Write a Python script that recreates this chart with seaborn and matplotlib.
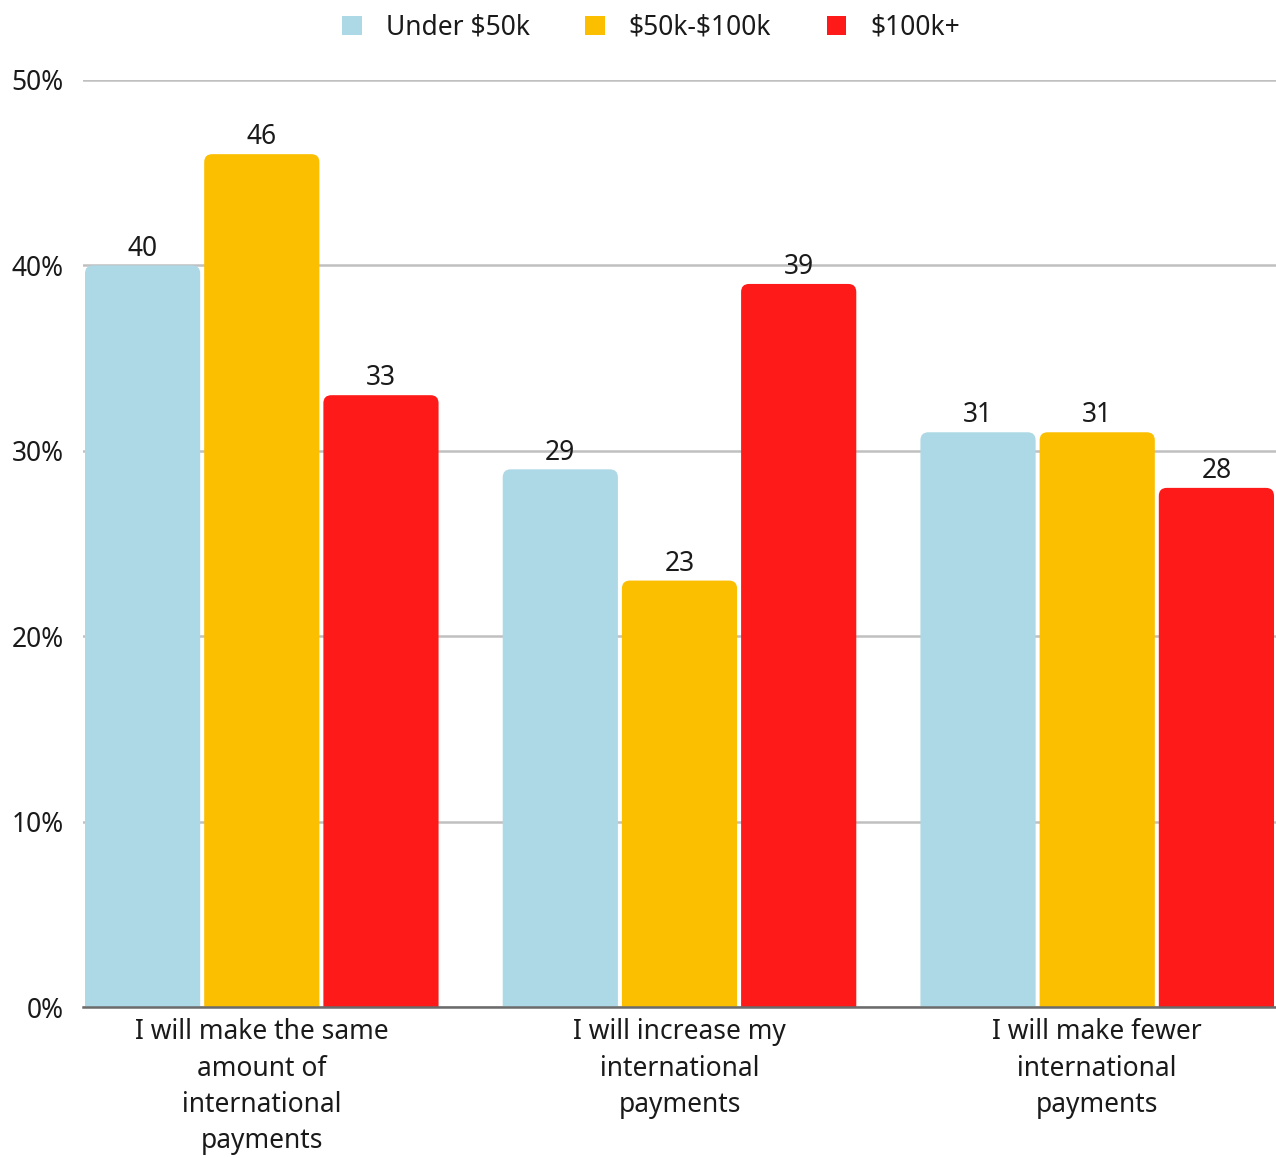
import matplotlib
matplotlib.use("Agg")
import matplotlib.pyplot as plt
from matplotlib.patches import FancyBboxPatch, Patch
import seaborn as sns
import pandas as pd

categories = ["I will make the same\namount of\ninternational\npayments",
              "I will increase my\ninternational\npayments",
              "I will make fewer\ninternational\npayments"]
series = ["Under $50k", "$50k-$100k", "$100k+"]
under_50k = [40, 29, 31]
mid_50_100k = [46, 23, 31]
over_100k = [33, 39, 28]
colors = ["#ADD8E6", "#FBBF00", "#FF1A1A"]
yticks = [0, 10, 20, 30, 40, 50]

rows = []
for s, vals in zip(series, [under_50k, mid_50_100k, over_100k]):
    for c, v in zip(categories, vals):
        rows.append({"category": c, "series": s, "value": v})
df = pd.DataFrame(rows)

sns.set_theme(style="white")
plt.rcParams["font.family"] = ["Noto Sans", "DejaVu Sans"]
plt.rcParams["text.parse_math"] = False
TXT = "#1a1a1a"
FS = 19

fig = plt.figure(figsize=(12.76, 11.58), dpi=100)
ax = fig.add_axes([83/1276, 151/1158, 1193/1276, 927/1158])

sns.barplot(data=df, x="category", y="value", hue="series", order=categories,
            hue_order=series, palette=colors, width=0.856, ax=ax,
            legend=False, errorbar=None, saturation=1)

ax.set_xlim(-0.428, 2.428)
ax.set_ylim(0, 50)

x_per_px = 2.856 / 1193
y_per_px = 50 / 927
aspect = y_per_px / x_per_px
gap = 4 * x_per_px

old = list(ax.patches)
for p in old:
    x0 = p.get_x()
    w = p.get_width()
    h = p.get_height()
    fc = p.get_facecolor()
    p.remove()
    nx = x0 + gap / 2
    nw = w - gap
    rp = FancyBboxPatch((nx, -2), nw, h + 2,
                        boxstyle=f"round,pad=0,rounding_size={8*x_per_px}",
                        mutation_aspect=aspect, facecolor=fc, edgecolor="none",
                        zorder=2)
    ax.add_patch(rp)
    rp.set_clip_on(True)
    rp.set_clip_path(ax.patch)
    ax.annotate(f"{h:g}", (nx + nw / 2, h), xytext=(0, 2), textcoords="offset points",
                ha="center", va="bottom", fontsize=FS, color=TXT)

ax.set_yticks(yticks)
ax.set_yticklabels([f"{t}%" for t in yticks], fontsize=FS, color=TXT)
ax.yaxis.grid(True, color="#c0c0c0", linewidth=1.8)
ax.set_axisbelow(True)
ax.tick_params(axis="y", length=0, pad=14)
ax.tick_params(axis="x", length=0, pad=8)
ax.set_xticks(range(3))
ax.set_xticklabels(categories, fontsize=FS, color=TXT, linespacing=1.4)
ax.set_xlabel("")
ax.set_ylabel("")
for s in ["top", "right", "left"]:
    ax.spines[s].set_visible(False)
ax.spines["bottom"].set_color("#6b6b6b")
ax.spines["bottom"].set_linewidth(1.8)
ax.spines["bottom"].set_zorder(3)

handles = [Patch(facecolor=c, edgecolor="none") for c in colors]
fig.legend(handles, series, loc="center", bbox_to_anchor=(651/1276, 1 - 28/1158),
           ncol=3, frameon=False, fontsize=FS, handlelength=0.75, handleheight=0.75,
           handletextpad=0.9, columnspacing=2.1, labelcolor=TXT)

fig.savefig("out.png", dpi=100)
